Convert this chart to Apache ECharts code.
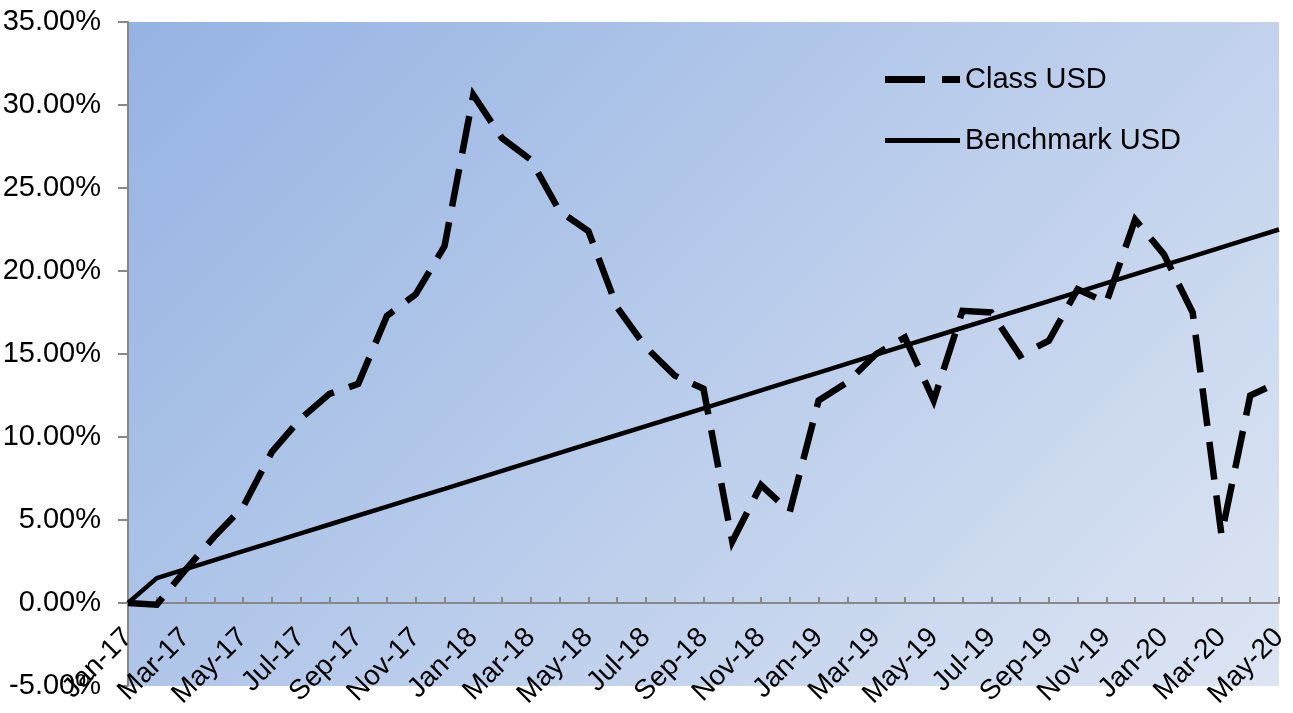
<!DOCTYPE html>
<html><head><meta charset="utf-8">
<script src="https://cdn.jsdelivr.net/npm/echarts@6/dist/echarts.min.js"></script>
<style>html,body{margin:0;padding:0;background:#fff}#c{width:1293px;height:713px}</style>
</head><body><div id="c"></div>
<script>
const categories = ['Jan-17','Feb-17','Mar-17','Apr-17','May-17','Jun-17','Jul-17','Aug-17','Sep-17','Oct-17','Nov-17','Dec-17',
  'Jan-18','Feb-18','Mar-18','Apr-18','May-18','Jun-18','Jul-18','Aug-18','Sep-18','Oct-18','Nov-18','Dec-18',
  'Jan-19','Feb-19','Mar-19','Apr-19','May-19','Jun-19','Jul-19','Aug-19','Sep-19','Oct-19','Nov-19','Dec-19',
  'Jan-20','Feb-20','Mar-20','Apr-20','May-20'];
const classUSD = [0, -0.1, 2.0, 4.0, 5.8, 9.1, 11.1, 12.6, 13.2, 17.3, 18.6, 21.5,
  30.6, 28.0, 26.7, 23.6, 22.4, 17.8, 15.4, 13.7, 12.9, 3.7, 7.1, 5.5,
  12.2, 13.3, 15.0, 16.0, 12.2, 17.6, 17.5, 14.9, 15.8, 18.9, 18.1, 23.1,
  21.0, 17.5, 4.1, 12.5, 13.3];
const benchmarkUSD = [0, 1.50, 2.04, 2.58, 3.12, 3.65, 4.19, 4.73, 5.27, 5.81, 6.35, 6.88,
  7.42, 7.96, 8.50, 9.04, 9.58, 10.12, 10.65, 11.19, 11.73, 12.27, 12.81, 13.35,
  13.88, 14.42, 14.96, 15.50, 16.04, 16.58, 17.12, 17.65, 18.19, 18.73, 19.27, 19.81,
  20.35, 20.88, 21.42, 21.96, 22.50];
const seriesNames = ['Class USD', 'Benchmark USD'];
const yMin = -5, yMax = 35, yStep = 5;

const gridTop = 22, gridBottom = 27, H = 713;
const plotH = H - gridTop - gridBottom;
// move the category axis up to the 0% line (same place onZero would put it)
const zeroOffset = -plotH * (0 - yMin) / (yMax - yMin);

const chart = echarts.init(document.getElementById('c'), null, {renderer: 'canvas'});
const font = 'Liberation Sans, Arial, sans-serif';
chart.setOption({
  animation: false,
  backgroundColor: '#ffffff',
  grid: {
    left: 128, top: gridTop, right: 14, bottom: gridBottom, show: true, borderWidth: 0,
    outerBoundsMode: 'none', containLabel: false,
    backgroundColor: new echarts.graphic.LinearGradient(128, 22, 1035.5, 929.5, [
      {offset: 0, color: '#95b3e3'},
      {offset: 1, color: '#dde5f3'}
    ], true)
  },
  legend: {
    data: [
      {name: seriesNames[0], icon: 'path://M0,0h40v7h-40zM57,0h18v7h-18z'},
      {name: seriesNames[1], icon: 'path://M0,0h75v5h-75z'}
    ],
    orient: 'vertical', left: 880, top: 60,
    itemWidth: 75, itemHeight: 7, itemGap: 32,
    textStyle: {fontFamily: font, fontSize: 29, color: '#000'}
  },
  xAxis: {
    type: 'category', data: categories, boundaryGap: false, position: 'bottom',
    offset: zeroOffset,
    axisLine: {onZero: false, lineStyle: {color: '#888888', width: 2}},
    axisTick: {show: true, inside: true, length: 6, interval: 0, lineStyle: {color: '#888888', width: 2}},
    axisLabel: {interval: 1, rotate: 45, fontFamily: font, fontSize: 28, color: '#000', margin: 30, hideOverlap: false},
    splitLine: {show: false}
  },
  yAxis: {
    type: 'value', min: yMin, max: yMax, interval: yStep,
    axisLine: {show: true, lineStyle: {color: '#888888', width: 2}},
    axisTick: {show: true, inside: false, length: 10, lineStyle: {color: '#888888', width: 2}},
    axisLabel: {fontFamily: font, fontSize: 29, color: '#000', margin: 27,
      formatter: v => v.toFixed(2) + '%'},
    splitLine: {show: false}
  },
  series: [
    {name: seriesNames[0], type: 'line', data: classUSD, symbol: 'none', z: 3,
      lineStyle: {color: '#000', width: 6.5, type: [38, 16], cap: 'butt', join: 'miter'},
      itemStyle: {color: '#000'}},
    {name: seriesNames[1], type: 'line', data: benchmarkUSD, symbol: 'none', z: 2,
      lineStyle: {color: '#000', width: 4.5, type: 'solid'},
      itemStyle: {color: '#000'}}
  ]
});
</script></body></html>
